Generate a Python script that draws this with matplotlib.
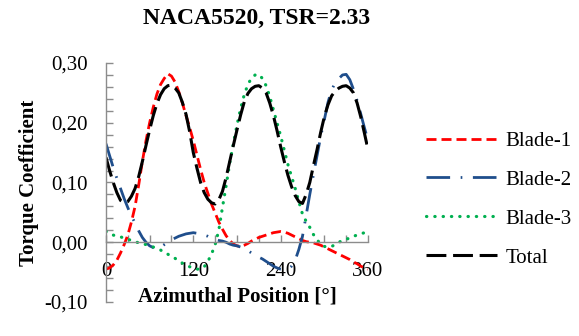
import matplotlib
matplotlib.use("Agg")
import matplotlib.pyplot as plt
from matplotlib.ticker import MultipleLocator, FuncFormatter

# Azimuthal position in degrees, 5-degree steps
theta = list(range(0, 361, 5))

blade1 = [-0.045, -0.043, -0.038, -0.030, -0.018, -0.004, 0.012, 0.034, 0.060, 0.096,
          0.135, 0.170, 0.200, 0.226, 0.248, 0.264, 0.274, 0.282, 0.278, 0.268,
          0.252, 0.233, 0.212, 0.192, 0.170, 0.146, 0.122, 0.100, 0.082, 0.064,
          0.049, 0.034, 0.022, 0.011, 0.003, -0.003, -0.006, -0.007, -0.005, -0.002,
          0.002, 0.005, 0.008, 0.010, 0.012, 0.014, 0.016, 0.017, 0.018, 0.017,
          0.015, 0.012, 0.009, 0.006, 0.003, 0.001, 0.000, -0.001, -0.003, -0.005,
          -0.008, -0.011, -0.014, -0.017, -0.020, -0.023, -0.026, -0.029, -0.033, -0.036,
          -0.040, -0.043, -0.045]

blade2 = [0.165, 0.145, 0.125, 0.107, 0.090, 0.073, 0.058, 0.044, 0.032, 0.019,
          0.008, 0.000, -0.006, -0.009, -0.010, -0.008, -0.004, 0.000, 0.004, 0.007,
          0.010, 0.012, 0.014, 0.015, 0.016, 0.015, 0.013, 0.012, 0.010, 0.007,
          0.005, 0.003, 0.002, 0.000, -0.003, -0.005, -0.006, -0.008, -0.011, -0.014,
          -0.018, -0.021, -0.025, -0.028, -0.032, -0.036, -0.040, -0.043, -0.045, -0.046,
          -0.045, -0.040, -0.030, -0.012, 0.010, 0.045, 0.080, 0.113, 0.145, 0.177,
          0.205, 0.234, 0.255, 0.267, 0.274, 0.280, 0.281, 0.272, 0.256, 0.237,
          0.215, 0.192, 0.170]

blade3 = [0.018, 0.015, 0.012, 0.010, 0.009, 0.007, 0.005, 0.003, 0.001, -0.001,
          -0.002, -0.004, -0.006, -0.008, -0.010, -0.013, -0.017, -0.020, -0.024, -0.027,
          -0.031, -0.035, -0.038, -0.041, -0.043, -0.045, -0.045, -0.041, -0.032, -0.020,
          -0.004, 0.020, 0.058, 0.094, 0.132, 0.165, 0.196, 0.224, 0.247, 0.264,
          0.275, 0.280, 0.281, 0.274, 0.262, 0.244, 0.222, 0.200, 0.178, 0.154,
          0.130, 0.110, 0.090, 0.068, 0.047, 0.035, 0.025, 0.013, 0.004, -0.003,
          -0.007, -0.008, -0.007, -0.004, 0.000, 0.003, 0.005, 0.007, 0.010, 0.012,
          0.014, 0.016, 0.018]

total = [0.142, 0.120, 0.100, 0.083, 0.070, 0.066, 0.068, 0.077, 0.090, 0.110,
         0.135, 0.162, 0.188, 0.212, 0.232, 0.247, 0.257, 0.262, 0.263, 0.258,
         0.250, 0.234, 0.214, 0.185, 0.150, 0.124, 0.100, 0.083, 0.072, 0.066,
         0.064, 0.071, 0.085, 0.108, 0.135, 0.162, 0.188, 0.213, 0.235, 0.249,
         0.257, 0.261, 0.262, 0.258, 0.250, 0.233, 0.212, 0.187, 0.160, 0.135,
         0.112, 0.093, 0.078, 0.068, 0.065, 0.080, 0.100, 0.128, 0.155, 0.184,
         0.210, 0.230, 0.245, 0.253, 0.258, 0.261, 0.262, 0.258, 0.250, 0.233,
         0.210, 0.183, 0.155]

labels = ["Blade-1", "Blade-2", "Blade-3", "Total"]

plt.rcParams["font.family"] = ["Liberation Serif", "DejaVu Serif"]

fig = plt.figure(figsize=(5.79, 3.36), dpi=100)
ax = fig.add_axes([0.183, 0.1012, 0.4526, 0.7113])

ax.plot(theta, blade1, color="#FF0000", lw=2.0, dashes=(3.6, 1.8), label=labels[0])
ax.plot(theta, blade2, color="#1F4E8C", lw=2.0, dashes=(8.5, 3.8, 0.6, 3.8), label=labels[1])
ax.plot(theta, blade3, color="#00B050", lw=2.3, dashes=(0.1, 2.5), dash_capstyle="round",
        label=labels[2])
ax.plot(theta, total, color="#000000", lw=2.2, dashes=(6.5, 2.2), label=labels[3])

ax.set_xlim(0, 360)
ax.set_ylim(-0.10, 0.30)

ax.xaxis.set_major_locator(MultipleLocator(120))
ax.xaxis.set_minor_locator(MultipleLocator(30))
ax.yaxis.set_major_locator(MultipleLocator(0.10))
ax.yaxis.set_minor_locator(MultipleLocator(0.02))
ax.yaxis.set_major_formatter(FuncFormatter(lambda v, p: f"{v:.2f}".replace(".", ",")))

axis_grey = "#8C8C8C"
for side in ("top", "right"):
    ax.spines[side].set_visible(False)
ax.spines["bottom"].set_position(("data", 0))
ax.spines["bottom"].set_color(axis_grey)
ax.spines["left"].set_color(axis_grey)
ax.spines["bottom"].set_linewidth(1.0)
ax.spines["left"].set_linewidth(1.0)

ax.tick_params(axis="both", which="both", direction="in", length=5, width=1.0,
               color=axis_grey, labelsize=15)
ax.tick_params(axis="y", which="major", pad=13)
ax.tick_params(axis="x", which="major", pad=14)

fig.text(257 / 579, 1 - 24 / 336, "NACA5520, TSR=2.33", fontsize=17, fontweight="bold",
         ha="center", va="baseline")
ax.set_xlabel("Azimuthal Position [°]", fontsize=15, fontweight="bold", labelpad=4)
ax.set_ylabel("Torque Coefficient", fontsize=15, fontweight="bold", labelpad=4)

leg = ax.legend(loc="center left", bbox_to_anchor=(1.151, 0.429), frameon=False, fontsize=15,
                handlelength=3.4, handletextpad=0.4, labelspacing=0.93)

fig.savefig("out.png", dpi=100)
